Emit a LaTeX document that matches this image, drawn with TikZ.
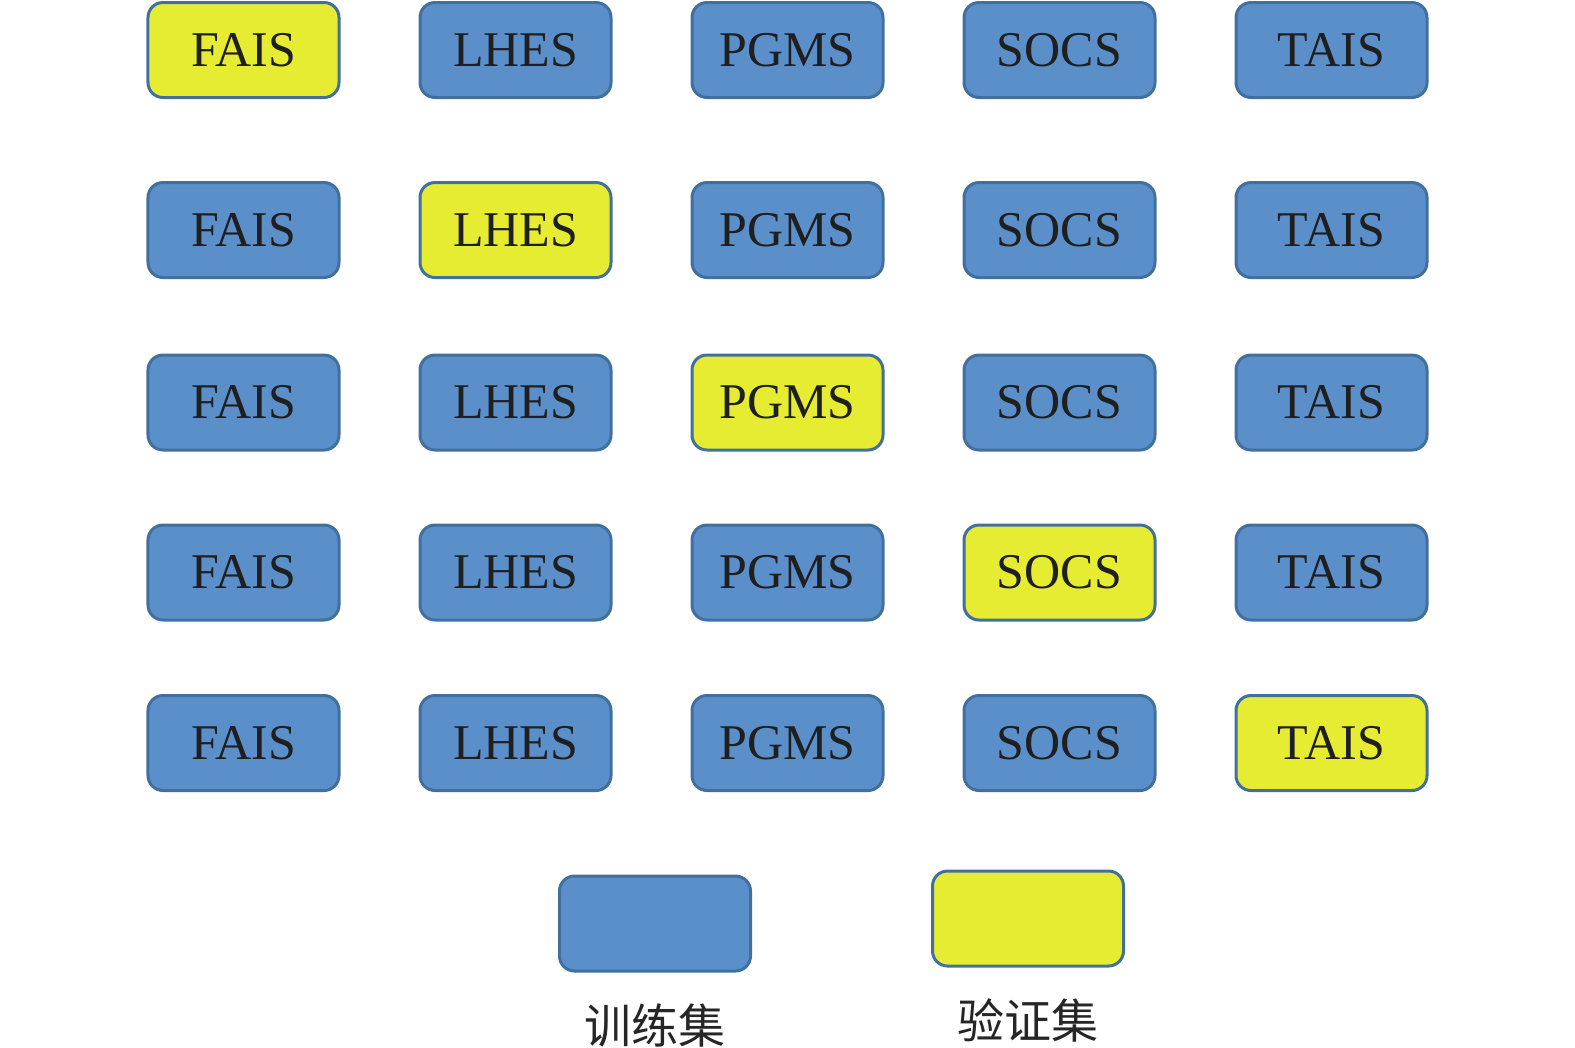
\documentclass[tikz,border=0pt]{standalone}
\usepackage{fontspec}
\setmainfont{Liberation Serif}
\newfontfamily\cjk{Noto Sans CJK SC}
\usetikzlibrary{positioning}

\definecolor{boxline}{HTML}{41709E}
\definecolor{trainblue}{HTML}{5B8FCA}
\definecolor{valyellow}{HTML}{E6EC32}

\tikzset{
  setbox/.style={draw=boxline, line width=1.5bp, rounded corners=7.5bp,
    minimum width=95.5bp, minimum height=47.5bp, inner sep=0pt,
    font=\fontsize{25bp}{25bp}\selectfont, text=black!88},
  trainbox/.style={setbox, fill=trainblue},
  valbox/.style={setbox, fill=valyellow},
  legendtext/.style={font=\cjk\fontsize{23.5bp}{23.5bp}\selectfont, text=black!85}
}

\begin{document}
\begin{tikzpicture}[x=0.5bp,y=-0.5bp]

\useasboundingbox (0,0) rectangle (1575,1047);

% one row per fold, the yellow box is the held out set
\foreach \r/\y in {1/50,2/230,3/402.5,4/572.5,5/743}
  \foreach \name [count=\c] in {FAIS,LHES,PGMS,SOCS,TAIS}
  {
    \ifnum\r=\c
      \node[valbox] (b\r\c) at ({243.5+272*(\c-1)},\y) {\name};
    \else
      \node[trainbox] (b\r\c) at ({243.5+272*(\c-1)},\y) {\name};
    \fi
  }

% legend
\node[trainbox] (train) at (655,923.5) {};
\node[valbox] (val) at (1028,918.5) {};
\node[legendtext, below=12bp of train] (trainlabel) {训练集};
\node[legendtext, below=12bp of val] (vallabel) {验证集};

\end{tikzpicture}
\end{document}
